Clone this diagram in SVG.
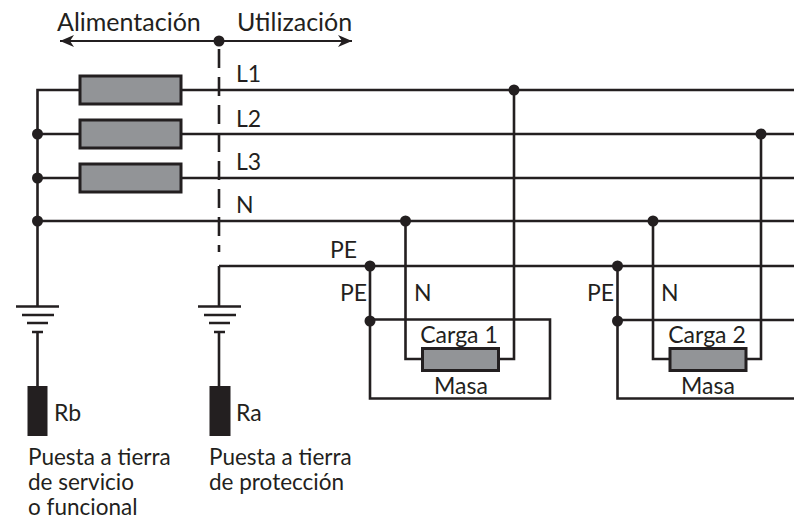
<svg xmlns="http://www.w3.org/2000/svg" width="794" height="520" viewBox="0 0 794 520">
<style>
.w{fill:none;stroke:#231f20;stroke-width:2.6}
.t{fill:none;stroke:#231f20;stroke-width:2}
.f{fill:#929497;stroke:#231f20;stroke-width:3}
.d{fill:#231f20}
text{font-family:"Lato","Noto Sans","Liberation Sans",sans-serif;font-size:23px;fill:#231f20}
.b{font-size:25px}
.s{font-size:22.500px}
</style>
<defs>
<marker id="a" markerUnits="userSpaceOnUse" markerWidth="16" markerHeight="14" refX="14" refY="7" orient="auto-start-reverse"><path d="M0 1L14 7L0 13L4 7Z" fill="#231f20"/></marker>
</defs>
<g id="connectors">
<path class="t" d="M60 41H352" marker-start="url(#a)" marker-end="url(#a)"/>
<path class="w" stroke-dasharray="19 9" d="M219 49V252"/>
<path class="w" d="M80 90H37.500V306M181 90H794M37.500 134H80M181 134H794M37.500 178H80M181 178H794M37.500 221H794"/>
<path class="w" d="M37.500 332V386M219 266V306M219 332V386M219 266H794"/>
<path class="w" d="M16 306.500H59M22 315H54M27 323H48M32 332H43M198 306.500H241M204 315H236M209 323H230M214 332H225"/>
<path class="w" d="M370 266V398.500H550V319.500H370M405.500 221V359H422M514 90V359H499"/>
<path class="w" d="M617.500 266V398.500H794M617.500 320H794M653 221V359H670M761 134V359H746"/>
</g>
<g id="fuse-1"><rect class="f" x="80" y="76" width="101" height="28"/></g>
<g id="fuse-2"><rect class="f" x="80" y="120" width="101" height="28"/></g>
<g id="fuse-3"><rect class="f" x="80" y="164" width="101" height="28"/></g>
<g id="joints">
<circle class="d" cx="219" cy="41" r="5.500"/>
<circle class="d" cx="37.500" cy="134" r="5.500"/>
<circle class="d" cx="37.500" cy="178" r="5.500"/>
<circle class="d" cx="37.500" cy="221" r="5.500"/>
<circle class="d" cx="514" cy="90" r="5.500"/>
<circle class="d" cx="761" cy="134" r="5.500"/>
<circle class="d" cx="405.500" cy="221" r="5.500"/>
<circle class="d" cx="653" cy="221" r="5.500"/>
<circle class="d" cx="370" cy="266" r="5.500"/>
<circle class="d" cx="370" cy="321" r="5.500"/>
<circle class="d" cx="617.500" cy="266" r="5.500"/>
<circle class="d" cx="617.500" cy="321" r="5.500"/>
</g>
<g id="load-1"><rect class="f" x="422.500" y="348.500" width="76" height="22"/><text x="459" y="343" text-anchor="middle">Carga 1</text><text x="461" y="394" text-anchor="middle">Masa</text></g>
<g id="load-2"><rect class="f" x="670" y="348.500" width="76" height="22"/><text x="707" y="343" text-anchor="middle">Carga 2</text><text x="708" y="394" text-anchor="middle">Masa</text></g>
<g id="electrode-b"><rect class="d" x="27.500" y="386" width="20" height="50"/><text x="54" y="421">Rb</text></g>
<g id="electrode-a"><rect class="d" x="209.500" y="386" width="21" height="50"/><text x="236" y="421">Ra</text></g>
<g id="labels">
<text class="b" x="57" y="31">Alimentación</text>
<text class="b" x="237" y="31">Utilización</text>
<text x="236" y="82">L1</text>
<text x="236" y="127">L2</text>
<text x="236" y="170">L3</text>
<text x="236" y="213">N</text>
<text x="330" y="258">PE</text>
<text x="340" y="301">PE</text>
<text x="414" y="301">N</text>
<text x="587" y="301">PE</text>
<text x="661" y="301">N</text>
<text class="s" x="28" y="465">Puesta a tierra</text>
<text class="s" x="28" y="490">de servicio</text>
<text class="s" x="28" y="515">o funcional</text>
<text class="s" x="209" y="465">Puesta a tierra</text>
<text class="s" x="209" y="490">de protección</text>
</g>
</svg>
